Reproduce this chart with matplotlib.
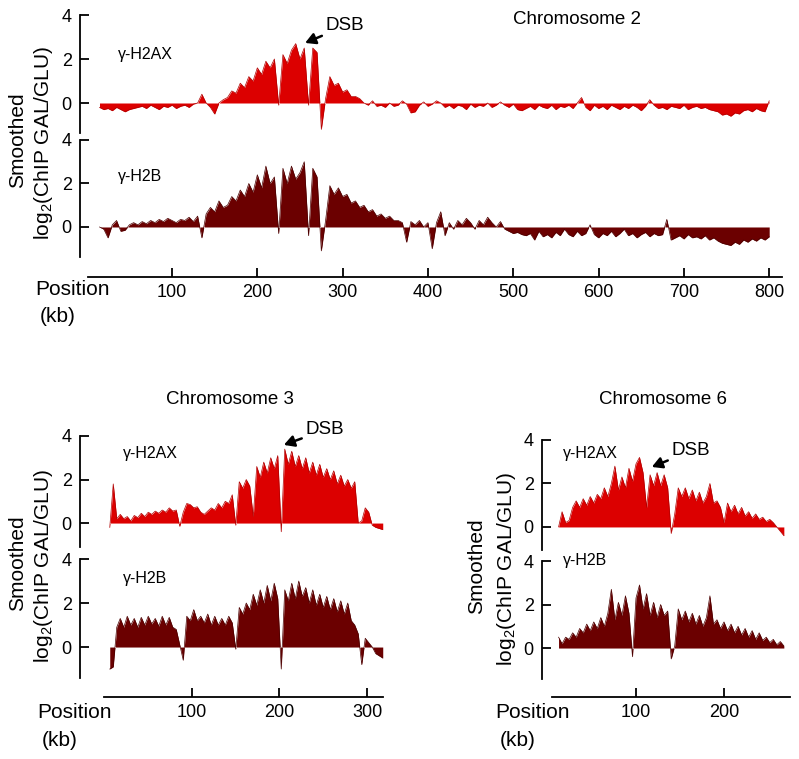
import numpy as np
import matplotlib
matplotlib.use('Agg')
import matplotlib.pyplot as plt

plt.rcParams['font.family'] = ['Liberation Sans', 'DejaVu Sans']
plt.rcParams['mathtext.default'] = 'regular'

# smoothed log2(ChIP GAL/GLU)
# chromosome 2, every 5 kb from 15 kb
chr2_start, chr2_step = 15, 5
chr2_h2ax = [
    -0.2, -0.3, -0.25, -0.35, -0.2, -0.3, -0.4, -0.3, -0.25, -0.2,
    -0.15, -0.25, -0.1, -0.2, -0.3, -0.15, -0.2, -0.1, -0.25, -0.15,
    -0.1, -0.2, -0.05, 0.0, 0.4, 0.0, -0.2, -0.5, 0.0, 0.15,
    0.25, 0.55, 0.45, 0.9, 0.7, 1.2, 1.0, 1.6, 1.3, 1.9,
    1.6, 2.0, -0.1, 2.2, 1.8, 2.4, 2.7, 2.0, 2.5, -0.1,
    2.5, 2.3, -1.2, 0.2, 1.2, 0.8, 0.9, 0.5, 0.6, 0.3,
    0.3, 0.2, 0.0, -0.1, 0.1, -0.15, -0.1, -0.2, 0.0, -0.15,
    -0.1, 0.1, -0.05, -0.45, -0.4, -0.1, 0.05, -0.15, -0.05, 0.1,
    0.0, -0.2, -0.1, -0.25, -0.1, -0.15, -0.3, -0.05, -0.2, -0.1,
    -0.15, 0.0, -0.2, -0.1, 0.05, -0.1, -0.2, -0.05, -0.3, -0.35,
    -0.25, -0.15, -0.3, -0.1, -0.2, -0.25, -0.1, -0.3, -0.15, -0.2,
    -0.1, -0.25, 0.0, 0.25, -0.2, -0.35, -0.1, -0.25, -0.15, -0.3,
    -0.1, -0.2, -0.3, -0.15, -0.25, -0.1, -0.2, -0.35, -0.15, 0.15,
    -0.1, -0.25, -0.2, -0.3, -0.15, -0.2, -0.25, -0.1, -0.3, -0.2,
    -0.15, -0.25, -0.2, -0.3, -0.35, -0.4, -0.55, -0.5, -0.6, -0.45,
    -0.5, -0.35, -0.3, -0.4, -0.25, -0.35, -0.4, 0.1]
chr2_h2b = [
    0.0, -0.1, -0.5, 0.1, 0.3, -0.2, -0.15, 0.1, 0.2, 0.1,
    0.25, 0.15, 0.3, 0.2, 0.35, 0.25, 0.4, 0.3, 0.2, 0.35,
    0.3, 0.45, 0.25, 0.5, -0.5, 0.6, 0.9, 0.7, 1.2, 0.9,
    1.0, 1.4, 1.2, 1.7, 1.4, 2.0, 1.6, 2.4, 1.8, 2.8,
    2.0, 2.3, -0.3, 2.7, 2.0, 2.8, 2.2, 2.5, 3.0, -0.4,
    2.7, 2.3, -1.1, 0.3, 1.9, 1.5, 1.8, 1.4, 1.5, 1.1,
    1.2, 0.9, 1.0, 0.7, 0.8, 0.5, 0.6, 0.4, 0.5, 0.3,
    0.3, 0.2, -0.7, 0.25, 0.1, 0.3, 0.0, 0.2, -1.0, 0.2,
    0.7, -0.4, 0.2, -0.1, 0.3, 0.1, 0.4, 0.2, -0.1, 0.3,
    0.1, 0.45, 0.2, 0.0, 0.25, -0.1, -0.2, -0.3, -0.25, -0.35,
    -0.4, -0.3, -0.6, -0.2, -0.45, -0.35, -0.5, -0.25, -0.4, -0.1,
    -0.35, -0.45, -0.2, -0.4, -0.3, 0.1, -0.35, -0.5, -0.3, -0.4,
    -0.2, -0.45, -0.3, -0.1, -0.4, -0.3, -0.5, -0.35, -0.25, -0.45,
    -0.3, -0.4, -0.35, 0.35, -0.6, -0.5, -0.4, -0.55, -0.35, -0.5,
    -0.45, -0.55, -0.4, -0.6, -0.5, -0.65, -0.75, -0.8, -0.85, -0.7,
    -0.8, -0.6, -0.7, -0.55, -0.65, -0.5, -0.6, -0.45]

# chromosome 3, every 4 kb from 6 kb
chr3_start, chr3_step = 6, 4
chr3_h2ax = [
    -0.2, 1.8, 0.2, 0.4, 0.2, 0.3, 0.1, 0.35, 0.25, 0.45,
    0.3, 0.5, 0.4, 0.55, 0.45, 0.6, 0.5, 0.7, 0.55, 0.6,
    -0.15, 0.5, 0.9, 0.85, 0.7, 0.75, 0.5, 0.4, 0.55, 0.7,
    0.6, 0.9, 0.7, 1.0, 0.9, 1.3, -0.1, 1.9, 1.6, 2.0,
    1.7, 0.3, 2.6, 2.1, 2.8, 2.3, 3.0, 2.5, 3.1, -0.4,
    3.4, 2.7, 3.3, 2.6, 3.1, 2.5, 3.0, 2.3, 2.8, 2.2,
    2.7, 2.1, 2.5, 2.0, 2.4, 1.8, 2.2, 1.7, 2.0, 1.6,
    1.9, 0.0, 0.1, 0.7, 0.5, -0.1, -0.2, -0.25, -0.3]
chr3_h2b = [
    -1.0, -0.9, 0.9, 1.3, 0.9, 1.4, 1.0, 1.3, 0.9, 1.35,
    1.0, 1.4, 1.05, 1.3, 0.95, 1.4, 1.0, 1.35, 0.9, 0.8,
    0.1, -0.6, 1.4, 1.2, 1.7, 1.2, 1.4, 1.1, 1.5, 1.0,
    1.4, 1.0, 1.3, 1.0, 1.4, 1.1, -0.1, 1.8, 1.5, 2.0,
    1.7, 2.4, 1.9, 2.6, 2.0, 2.8, 2.1, 2.9, 2.2, -1.0,
    2.6, 2.1, 2.9, 2.2, 3.0, 2.3, 2.7, 2.0, 2.6, 1.9,
    2.4, 1.8, 2.3, 1.7, 2.2, 1.6, 2.1, 1.5, 2.0, 1.2,
    1.0, 0.6, -0.8, 0.4, 0.2, 0.0, -0.3, -0.4, -0.5]

# chromosome 6, every 4 kb from 12 kb
chr6_start, chr6_step = 12, 4
chr6_h2ax = [
    0.0, 0.7, 0.2, 0.3, 0.9, 1.2, 0.9, 1.3, 1.0, 1.4,
    1.1, 1.5, 1.3, 1.8, 1.4, 2.0, 2.8, 1.7, 2.3, 1.8,
    2.7, 2.1, 2.9, 3.2, 2.5, 0.9, 2.4, 1.9, 2.5, 1.9,
    2.4, 1.8, -0.3, 0.6, 1.8, 1.4, 1.8, 1.3, 1.7, 1.2,
    1.6, 1.1, 1.4, 2.0, 1.1, 1.2, 0.9, 0.2, 1.1, 0.7,
    1.0, 0.6, 0.9, 0.5, 0.7, 0.4, 0.6, 0.35, 0.45, 0.25,
    0.35, 0.2, 0.0, -0.2, -0.4]
chr6_h2b = [
    0.5, 0.2, 0.5, 0.4, 0.7, 0.5, 0.9, 0.7, 1.1, 0.8,
    1.2, 0.9, 1.4, 1.0, 1.6, 2.7, 1.3, 2.1, 1.5, 2.4,
    1.6, -0.4, 2.3, 2.9, 1.8, 2.5, 1.5, 2.1, 1.4, 2.0,
    1.5, 1.7, -0.5, 0.1, 1.8, 1.3, 1.7, 1.2, 1.6, 1.1,
    1.5, 1.0, 1.4, 2.4, 1.1, 1.3, 0.9, 1.2, 0.8, 1.1,
    0.7, 1.0, 0.6, 0.9, 0.5, 0.8, 0.4, 0.7, 0.35, 0.5,
    0.25, 0.4, 0.15, 0.3, 0.1]

xticks2 = [100, 200, 300, 400, 500, 600, 700, 800]
xticks3 = [100, 200, 300]
xticks6 = [100, 200]
yticks = [0, 2, 4]
dsb2, dsb3, dsb6 = (256, 2.73), (205, 3.59), (118, 2.76)

RED, RED_EDGE = '#dc0000', '#b00000'
DARK, DARK_EDGE = '#6b0000', '#4a0000'

W, H = 799, 759
fig = plt.figure(figsize=(W / 100, H / 100), dpi=100)


def px_axes(left, top, right, bottom):
    return fig.add_axes([left / W, 1 - bottom / H, (right - left) / W, (bottom - top) / H])


def positions(start, step, vals):
    return start + step * np.arange(len(vals))


def profile(ax, x, y, fc, ec):
    y = np.array(y)
    ax.fill_between(x, 0, y, color=fc, lw=0)
    ax.plot(x, y, color=ec, lw=0.5)


def style_top(ax, xlim, ylim):
    ax.set_xlim(*xlim)
    ax.set_ylim(*ylim)
    for s in ['top', 'right', 'bottom']:
        ax.spines[s].set_visible(False)
    ax.spines['left'].set_linewidth(1.3)
    ax.set_xticks([])
    ax.set_yticks(yticks)
    ax.tick_params(axis='y', direction='in', length=6.5, width=1.3, labelsize=13, pad=6)
    ax.patch.set_visible(False)


def style_bottom(ax, xlim, ylim, xb, xt):
    style_top(ax, xlim, ylim)
    ax.spines['bottom'].set_visible(True)
    ax.spines['bottom'].set_linewidth(1.3)
    ax.spines['left'].set_bounds(-1.4, 4)
    ax.spines['bottom'].set_bounds(*xb)
    ax.set_xticks(xt)
    ax.tick_params(axis='x', direction='in', length=6.5, width=1.3, labelsize=13, pad=5)


def dsb(ax, xy, dx, dy):
    ax.annotate('DSB', xy=xy, xytext=(dx, dy), textcoords='offset points',
                ha='left', va='center', fontsize=13.5,
                arrowprops=dict(arrowstyle='-|>,head_length=0.45,head_width=0.25',
                                color='black', lw=1.8, shrinkA=1, shrinkB=0))


def ftext(x, y, s, **kw):
    fig.text(x / W, 1 - y / H, s, **kw)


# ---- chromosome 2 ----
lim2 = (-7.85, 815)
a = px_axes(80, 15, 782, 132.7)
profile(a, positions(chr2_start, chr2_step, chr2_h2ax), chr2_h2ax, RED, RED_EDGE)
style_top(a, lim2, (-1.35, 4))
dsb(a, dsb2, 15, 12.2)
b = px_axes(80, 140, 782, 277)
profile(b, positions(chr2_start, chr2_step, chr2_h2b), chr2_h2b, DARK, DARK_EDGE)
style_bottom(b, lim2, (-2.3, 4), (1.5, 815), xticks2)

# ---- chromosome 3 ----
lim3 = (-28, 318.3)
a = px_axes(80, 436, 383, 547)
profile(a, positions(chr3_start, chr3_step, chr3_h2ax), chr3_h2ax, RED, RED_EDGE)
style_top(a, lim3, (-1.1, 4))
dsb(a, dsb3, 15.8, 10.8)
b = px_axes(80, 559, 383, 697)
profile(b, positions(chr3_start, chr3_step, chr3_h2b), chr3_h2b, DARK, DARK_EDGE)
style_bottom(b, lim3, (-2.27, 4), (0, 318), xticks3)

# ---- chromosome 6 ----
lim6 = (-6.8, 275)
a = px_axes(542, 440, 790, 550)
profile(a, positions(chr6_start, chr6_step, chr6_h2ax), chr6_h2ax, RED, RED_EDGE)
style_top(a, lim6, (-1.06, 4))
dsb(a, dsb6, 14.4, 11.5)
b = px_axes(542, 561, 790, 697)
profile(b, positions(chr6_start, chr6_step, chr6_h2b), chr6_h2b, DARK, DARK_EDGE)
style_bottom(b, lim6, (-2.25, 4), (4.5, 275), xticks6)

# titles and labels
ftext(577, 19.5, 'Chromosome 2', ha='center', va='center', fontsize=13.5)
ftext(230, 399, 'Chromosome 3', ha='center', va='center', fontsize=13.5)
ftext(663, 399, 'Chromosome 6', ha='center', va='center', fontsize=13.5)

for x, y1, y2 in [(118, 55, 177), (123, 454, 578), (563, 454, 561)]:
    ftext(x, y1, 'γ-H2AX', ha='left', va='center', fontsize=11.5)
    ftext(x, y2, 'γ-H2B', ha='left', va='center', fontsize=11.5)

for xs, xl, yc in [(17.5, 44, 140), (17.5, 44, 563), (477, 506, 566)]:
    ftext(xs, yc, 'Smoothed', rotation=90, ha='center', va='center', fontsize=15)
    ftext(xl, yc + 3, 'log$_2$(ChIP GAL/GLU)', rotation=90, ha='center', va='center', fontsize=15)

for x, y in [(35, 290), (37, 713), (495, 713)]:
    ftext(x, y, 'Position', ha='left', va='center', fontsize=15)
    ftext(x + 5, y + 27, '(kb)', ha='left', va='center', fontsize=15)

fig.savefig('out.png', dpi=100)
